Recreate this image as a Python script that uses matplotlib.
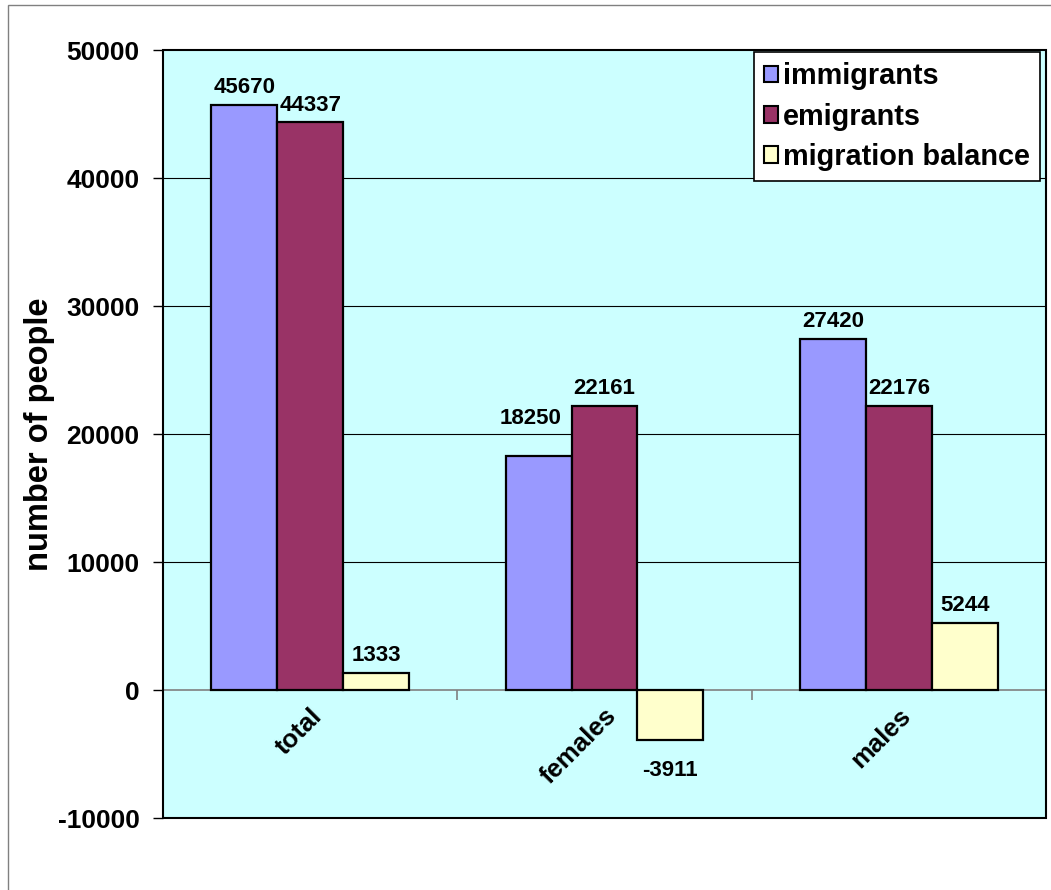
import matplotlib.pyplot as plt
from matplotlib.patches import Rectangle
import numpy as np

plt.rcParams['font.family'] = ['Liberation Sans', 'DejaVu Sans']
plt.rcParams['font.weight'] = 'bold'

categories = ["total", "females", "males"]
series_names = ["immigrants", "emigrants", "migration balance"]
immigrants = [45670, 18250, 27420]
emigrants = [44337, 22161, 22176]
balance = [1333, -3911, 5244]
y_ticks = [-10000, 0, 10000, 20000, 30000, 40000, 50000]

colors = ["#9999FF", "#993366", "#FFFFCC"]

fig = plt.figure(figsize=(10.51, 8.9), dpi=100)
ax = fig.add_axes([163 / 1051, 72 / 890, 883 / 1051, 768 / 890])
ax.set_facecolor("#CCFFFF")

# outer chart border
fig.patches.append(Rectangle((8 / 1051, -0.01), 1.1, 1 - 5 / 890 + 0.01,
                             transform=fig.transFigure, fill=False,
                             edgecolor="#808080", linewidth=1))

x = np.arange(len(categories))
w = 0.224
all_series = [immigrants, emigrants, balance]
bar_sets = []
for i, (vals, col, name) in enumerate(zip(all_series, colors, series_names)):
    bars = ax.bar(x + (i - 1) * w, vals, w, color=col, edgecolor="black",
                  linewidth=1.6, label=name, zorder=3)
    bar_sets.append(bars)

# value labels
for bars, vals in zip(bar_sets, all_series):
    for b, v in zip(bars, vals):
        cx = b.get_x() + b.get_width() / 2
        dx, dy = 0, 5
        if v == 18250:
            dx, dy = -6, 20  # nudged like the original
        if v < 0:
            ax.annotate(str(v), (cx, v), xytext=(0, -14), textcoords="offset points",
                        ha="center", va="top", fontsize=16, fontweight="bold")
        else:
            ax.annotate(str(v), (cx, v), xytext=(dx, dy), textcoords="offset points",
                        ha="center", va="bottom", fontsize=16, fontweight="bold")

ax.set_xlim(-0.5, 2.5)
ax.set_ylim(-10000, 50000)
ax.set_yticks(y_ticks)
ax.set_yticklabels([str(t) for t in y_ticks], fontsize=19, fontweight="bold")
ax.tick_params(axis="y", direction="out", length=7, width=1, color="black", pad=10)

for t in y_ticks[2:-1]:
    ax.axhline(t, color="black", linewidth=0.8, zorder=1)

# category axis sits at zero
for s in ["top", "right", "left"]:
    ax.spines[s].set_visible(False)
ax.spines["bottom"].set_position(("data", 0))
ax.spines["bottom"].set_color("#808080")
ax.spines["bottom"].set_linewidth(1.2)
ax.spines["bottom"].set_zorder(2)
ax.set_xticks([0.5, 1.5])
ax.set_xticklabels([])
ax.tick_params(axis="x", which="major", direction="out", length=7, width=1.2, color="#808080")
ax.set_xticks(x, minor=True)
ax.set_xticklabels(categories, minor=True, rotation=45, ha="right", va="top",
                   rotation_mode="anchor", fontsize=18.5, fontweight="bold")
ax.tick_params(axis="x", which="minor", length=0, pad=10)

ax.add_patch(Rectangle((0, 0), 1, 1, transform=ax.transAxes, fill=False,
                       edgecolor="black", linewidth=1.5, clip_on=False, zorder=5))

ax.set_ylabel("number of people", fontsize=23.5, fontweight="bold", labelpad=2)

leg = ax.legend(loc="upper right", bbox_to_anchor=(0.993, 0.997), fontsize=20.8,
                frameon=True, fancybox=False, edgecolor="black", framealpha=1,
                handlelength=0.5, handleheight=0.5, handletextpad=0.15,
                labelspacing=0.42, borderpad=0.35, borderaxespad=0)
leg.get_frame().set_linewidth(1.2)
for h in leg.legend_handles:
    h.set_linewidth(1.5)

fig.savefig("out.png", dpi=100)
